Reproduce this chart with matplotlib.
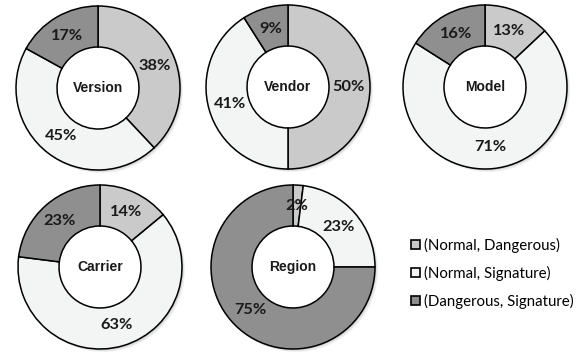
import matplotlib
matplotlib.use("Agg")
import matplotlib.pyplot as plt
from matplotlib.patches import Circle

# Share of each state pair per attribute (percent)
attributes = ["Version", "Vendor", "Model", "Carrier", "Region"]
normal_dangerous = [38, 50, 13, 14, 2]
normal_signature = [45, 41, 71, 63, 23]
dangerous_signature = [17, 9, 16, 23, 75]
series_labels = ["(Normal, Dangerous)", "(Normal, Signature)", "(Dangerous, Signature)"]

colors = ["#cacaca", "#f3f5f4", "#8f8f8f"]

W, H = 581, 355
fig = plt.figure(figsize=(W / 100, H / 100), dpi=100)
ax = fig.add_axes([0, 0, 1, 1])

# donut centres in pixel space (y measured from the top)
centers = [(98, 88), (288, 87), (485, 87), (100, 267), (293, 267)]
R = 82

wedge_handles = None
for i, name in enumerate(attributes):
    cx, cy = centers[i]
    cy = H - cy
    vals = [normal_dangerous[i], normal_signature[i], dangerous_signature[i]]
    # soft drop shadow
    for k, a in [(3.0, 0.10), (2.0, 0.15), (1.0, 0.2)]:
        ax.add_patch(Circle((cx + k, cy - k), R, facecolor="#808080",
                            edgecolor="none", alpha=a, zorder=0))
    wedges, texts, autotexts = ax.pie(
        vals, colors=colors, startangle=90, counterclock=False,
        center=(cx, cy), radius=R,
        autopct=lambda p: f"{round(p)}%", pctdistance=0.74,
        wedgeprops=dict(width=R * 0.5, edgecolor="black", linewidth=1.1),
        textprops=dict(fontsize=11.8, fontweight="bold", family="Lato", color="#1a1a1a"),
        frame=True,
    )
    for w in wedges:
        w.set_zorder(2)
    for t in autotexts:
        t.set_zorder(3)
    ax.add_patch(Circle((cx, cy), R * 0.5, facecolor="white", edgecolor="none", zorder=1.5))
    ax.text(cx, cy, name, ha="center", va="center", fontsize=10, fontweight="bold",
            family="Liberation Sans", color="#1a1a1a", zorder=3)
    if wedge_handles is None:
        wedge_handles = wedges

ax.set_xlim(0, W)
ax.set_ylim(0, H)
ax.set_aspect("equal")
ax.axis("off")

leg = ax.legend(wedge_handles, series_labels, loc="upper left",
                bbox_to_anchor=(411 / W, 1 - 238 / H), frameon=False,
                prop=dict(family="Lato", size=10.8),
                handlelength=0.7, handleheight=0.7, handletextpad=0.2,
                labelspacing=0.85, borderpad=0, borderaxespad=0)
for h in leg.legend_handles:
    h.set_linewidth(1.2)
    h.set_width(6.5)
    h.set_height(6.5)
    h.set_y(h.get_y() + 0.5)

fig.savefig("out.png", dpi=100)
